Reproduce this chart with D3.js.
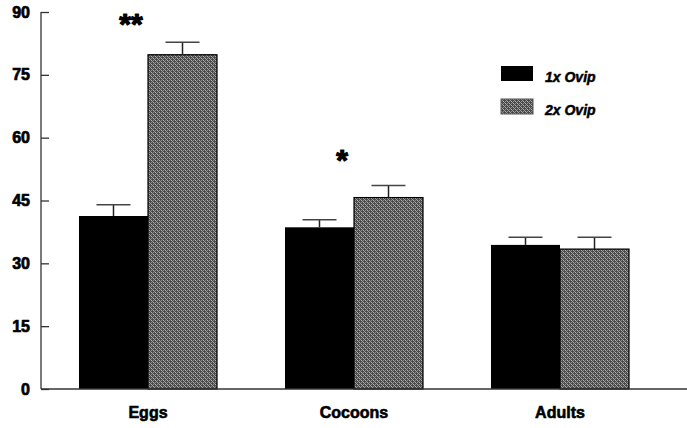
<!DOCTYPE html>
<html>
<head>
<meta charset="utf-8">
<script src="https://cdn.jsdelivr.net/npm/d3@7"></script>
<style>
  body { margin: 0; background: #fff; }
  svg { display: block; }
  text { font-family: "Liberation Sans", Arial, sans-serif; font-weight: bold; fill: #000; }
</style>
</head>
<body>
<svg id="chart" width="687" height="428"></svg>
<script>
// Mean counts per stage for single vs double oviposition
const categories = ["Eggs", "Cocoons", "Adults"];
const seriesNames = ["1x Ovip", "2x Ovip"];
const ovip1x = [41.3, 38.6, 34.4];
const ovip2x = [79.8, 45.7, 33.4];
const err1x = [2.7, 1.8, 1.8];
const err2x = [3.0, 2.9, 2.8];
const significance = ["**", "*", ""];
const yTicks = [0, 15, 30, 45, 60, 75, 90];

const values = [ovip1x, ovip2x];
const errors = [err1x, err2x];

const svg = d3.select("#chart");
const x0 = 41, yBase = 389, yTop = 12;

const y = d3.scaleLinear().domain([0, 90]).range([yBase, yTop]);
const xGroup = d3.scaleBand().domain(categories).range([45, 663])
  .paddingInner(0.33).paddingOuter(0.165);
const xSeries = d3.scaleBand().domain(seriesNames).range([0, xGroup.bandwidth()]);

// Dithered grey fill for the second series
const defs = svg.append("defs");
const pat = defs.append("pattern").attr("id", "dither")
  .attr("patternUnits", "userSpaceOnUse").attr("width", 4).attr("height", 4);
pat.append("rect").attr("width", 4).attr("height", 4).attr("fill", "#4a4a4a");
[[0, 0, "#b4b4b4"], [2, 2, "#b4b4b4"], [2, 0, "#8c8c8c"], [0, 2, "#8c8c8c"],
 [1, 1, "#9a9a9a"], [3, 3, "#9a9a9a"]].forEach(([px, py, c]) =>
  pat.append("rect").attr("x", px).attr("y", py).attr("width", 1).attr("height", 1).attr("fill", c));

const fills = ["#000", "url(#dither)"];

// Heavy lettering: bold face thickened with a thin outline
function heavy(sel, w) {
  sel.style("font-family", "'Liberation Sans', Arial, sans-serif").style("font-weight", "bold")
    .attr("fill", "#000").attr("stroke", "#000").attr("stroke-width", w).attr("stroke-linejoin", "round");
}

// Bars
const groups = svg.append("g").selectAll("g").data(categories).join("g")
  .attr("transform", d => `translate(${xGroup(d)},0)`);

seriesNames.forEach((s, si) => {
  groups.append("rect")
    .attr("x", xSeries(s))
    .attr("width", xSeries.bandwidth())
    .attr("y", (d, i) => y(values[si][i]))
    .attr("height", (d, i) => yBase - y(values[si][i]))
    .attr("fill", fills[si])
    .attr("stroke", "#000")
    .attr("stroke-width", si === 1 ? 1.2 : 0);

  // Error bars (upper only)
  const cx = xSeries(s) + xSeries.bandwidth() / 2;
  groups.append("line")
    .attr("x1", cx).attr("x2", cx)
    .attr("y1", (d, i) => y(values[si][i]))
    .attr("y2", (d, i) => y(values[si][i] + errors[si][i]))
    .attr("stroke", "#222").attr("stroke-width", 1.5);
  groups.append("line")
    .attr("x1", cx - 17).attr("x2", cx + 17)
    .attr("y1", (d, i) => y(values[si][i] + errors[si][i]))
    .attr("y2", (d, i) => y(values[si][i] + errors[si][i]))
    .attr("stroke", "#444").attr("stroke-width", 1.5);
});

// Significance markers
groups.append("text")
  .attr("x", (d, i) => xGroup.bandwidth() / 2 + (i === 0 ? -17 : -12))
  .attr("y", (d, i) => y(d3.max([ovip1x[i] + err1x[i], ovip2x[i] + err2x[i]])))
  .attr("dy", (d, i) => i === 0 ? "-8" : "-15")
  .attr("text-anchor", "middle")
  .style("font-size", "30px")
  .style("letter-spacing", "0px")
  .text((d, i) => significance[i])
  .call(heavy, 1.2);

// Axes
const yAxis = d3.axisLeft(y).tickValues(yTicks).tickSize(-8).tickPadding(11);
const gy = svg.append("g").attr("transform", `translate(${x0},0)`).call(yAxis);
gy.select(".domain").attr("d", `M0,${yTop}H0V${yBase}`).attr("stroke", "#333").attr("stroke-width", 1.3);
gy.selectAll(".tick line").attr("stroke", "#333").attr("stroke-width", 1.3);
gy.selectAll(".tick text").style("font-size", "16px").call(heavy, 0.7);

const xAxis = d3.axisBottom(xGroup).tickSize(0).tickPadding(18);
const gx = svg.append("g").attr("transform", `translate(0,${yBase})`).call(xAxis);
gx.select(".domain").attr("d", `M${x0},0H687`).attr("stroke", "#333").attr("stroke-width", 1.3);
gx.selectAll(".tick text").style("font-size", "16px").call(heavy, 0.6);

// Legend
const legend = svg.append("g").attr("transform", "translate(501,66)");
seriesNames.forEach((s, i) => {
  const g = legend.append("g").attr("transform", `translate(0,${i * 33})`);
  g.append("rect").attr("width", 32).attr("height", 15).attr("fill", fills[i])
    .attr("stroke", i === 1 ? "#555" : "none");
  g.append("text").attr("x", 44).attr("y", 16)
    .style("font-size", "14px").style("font-style", "italic").text(s).call(heavy, 0.5);
});
</script>
</body>
</html>
